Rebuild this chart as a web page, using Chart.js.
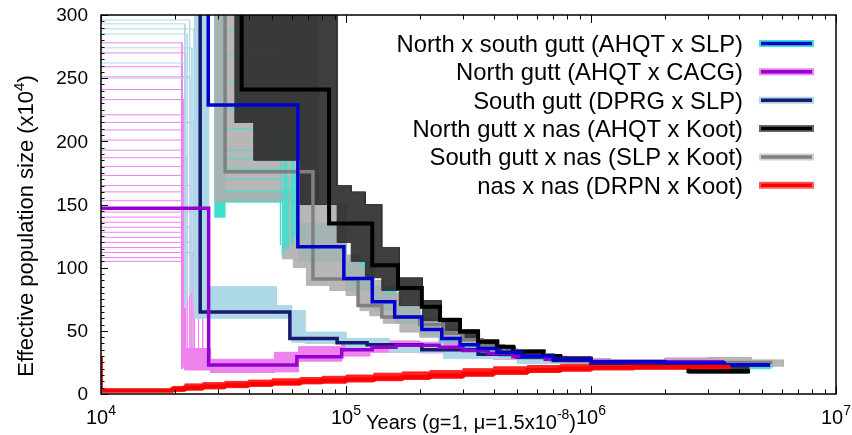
<!DOCTYPE html>
<html>
<head>
<meta charset="utf-8">
<title>PSMC</title>
<script src="https://cdn.jsdelivr.net/npm/chart.js@4.4.1/dist/chart.umd.min.js"></script>
<style>
  body { margin: 0; background: #fff; }
  canvas { display: block; }
</style>
</head>
<body>
<canvas id="psmc" width="852" height="435"></canvas>
<script>
const FUENTE = "'Liberation Sans', Arial, Helvetica, sans-serif";

// Ejes
const xTicks = [1e4, 1e5, 1e6, 1e7];
const yTicks = [0, 50, 100, 150, 200, 250, 300];

// Leyenda
const leyenda = [
    'North x south gutt (AHQT x SLP)',
    'North gutt (AHQT x CACG)',
    'South gutt (DPRG x SLP)',
    'North gutt x nas (AHQT x Koot)',
    'South gutt x nas (SLP x Koot)',
    'nas x nas (DRPN x Koot)'
];
const colorLinea = ['#0000d0', '#9400d3', '#191970', '#000000', '#808080', '#ff0000'];
const colorBoot = ['#40e0d0', '#ee82ee', '#add8e6', '#6a6a6a', '#d0d0d0', '#ff5a5a'];

// Curvas principales: inicio de cada intervalo (años) y Ne (x10^4)
const nsT = [1e4, 2.74e4, 6.36e4, 9.8e4, 1.28e5, 1.58e5, 2.04e5, 2.46e5, 2.92e5, 3.46e5, 4.13e5, 5.2e5, 7e5, 1e6, 2e6, 3.5e6, 5.38e6];
const nsNe = [400, 228.7, 116.6, 91.5, 73, 61, 51, 44, 39, 36, 33, 30, 27.5, 25.5, 24.5, 23, 23];

const northT = [1e4, 2.75e4, 6.3e4, 9.6e4, 1.28e5, 1.6e5, 2.4e5, 3e5, 3.8e5, 4.8e5, 6.5e5, 1e6, 2e6, 3.5e6];
const northNe = [147, 23, 29.5, 35, 37, 38.5, 37, 34.5, 32, 29.5, 27.5, 25.5, 25.5, 25.5];

const southT = [1e4, 2.54e4, 5.9e4, 9.2e4, 1.22e5, 2.04e5, 3.46e5, 5e5, 7e5, 1e6, 2e6, 5.38e6];
const southNe = [400, 65, 44, 40.5, 39, 35, 31.5, 29, 26.5, 24.5, 23, 23];

const northNasT = [1e4, 3.75e4, 8.53e4, 1.28e5, 1.63e5, 2.04e5, 2.42e5, 2.92e5, 3.46e5, 4.13e5, 4.81e5, 6.37e5, 7.47e5, 1e6, 1.6e6, 2.5e6, 4.46e6];
const northNasNe = [400, 241, 135, 102, 84, 69, 58.6, 49.3, 41.4, 37.5, 33.5, 30, 28, 25, 22, 18, 18];

const southNasT = [1e4, 3.21e4, 7.33e4, 1.12e5, 1.4e5, 2.0e5, 2.5e5, 3.0e5, 3.6e5, 4.4e5, 5.5e5, 7e5, 1e6, 2e6, 5.5e6];
const southNasNe = [400, 176, 91, 70, 61, 55, 48, 43, 38, 34, 31, 28, 26, 25, 25];

const nasT = [1e4, 1.96e4, 2.2e4, 2.6e4, 3.2e4, 4e4, 5e4, 6.5e4, 8e4, 1e5, 1.3e5, 1.7e5, 2.2e5, 3e5, 4e5, 5.5e5, 7.5e5, 1e6, 1.5e6, 2.2e6, 3.7e6];
const nasNe = [2.8, 4, 5, 6, 7, 8, 8.8, 9.8, 10.6, 11.5, 12.5, 13.5, 14.5, 16, 17.5, 19, 20, 21, 21.5, 21.5, 21.5];

// Bootstraps: envolvente superior / inferior
const bootNsT = [2.9e4, 3.2e4, 6.4e4, 1.0e5, 1.3e5, 1.6e5, 2e5, 2.4e5, 2.9e5, 3.5e5, 4.2e5, 5e5, 7e5, 1e6, 3e6, 5.4e6];
const bootNsUp = [400, 160, 135, 105, 85, 70, 60, 52, 45, 39, 35, 31, 28, 26, 25, 25];
const bootNsLo = [140, 152, 105, 82, 66, 56, 47, 41, 36, 32.5, 29.5, 27.5, 25.5, 23.5, 20, 20];

const bootNorthT = [2.2e4, 2.8e4, 5.1e4, 6.4e4, 9.6e4, 1.25e5, 2e5, 3e5, 4e5, 5.5e5, 8e5, 1.2e6, 2e6, 3.3e6];
const bootNorthUp = [36, 27.5, 33, 37.5, 39.5, 42, 41, 37, 34, 30, 28, 27, 28.5, 28.5];
const bootNorthLo = [19, 17, 17.5, 26, 30, 33, 32.5, 30, 27.5, 25.5, 24, 23.5, 23.5, 23.5];

const bootSouthT = [2.4e4, 2.75e4, 5.2e4, 6.0e4, 6.8e4, 1.0e5, 1.5e5, 2.5e5, 5e5, 1e6, 5.5e6];
const bootSouthUp = [400, 85, 70, 66, 49, 44, 40, 34, 29, 25.5, 25.5];
const bootSouthLo = [60, 60, 60, 41, 40, 36, 33, 28, 24, 21, 21];

const bootNorthNasT = [3.5e4, 4.2e4, 6.5e4, 9.2e4, 1.05e5, 1.2e5, 1.4e5, 1.65e5, 2.05e5, 2.45e5, 2.95e5, 3.5e5, 4.2e5, 4.9e5, 6.5e5, 7.6e5, 1e6, 1.6e6, 2.5e6, 4.4e6];
const bootNorthNasUp = [400, 400, 400, 165, 160, 150, 116, 92, 74, 60, 51, 43, 38, 35, 31, 29.5, 26, 24, 21, 21];
const bootNorthNasLo = [215, 185, 150, 120, 105, 92, 82, 70, 58, 50, 43, 38, 34.5, 31, 28, 26.5, 24, 21, 16.5, 16.5];

const bootSouthNasT = [2.9e4, 5.5e4, 6.1e4, 6.9e4, 7.7e4, 8.6e4, 1.0e5, 1.14e5, 1.25e5, 1.42e5, 1.66e5, 2.0e5, 2.4e5, 2.9e5, 3.5e5, 4.2e5, 5e5, 6.5e5, 8e5, 1e6, 2e6, 3e6, 4.5e6, 6.1e6];
const bootSouthNasUp = [400, 400, 400, 400, 150, 150, 110, 100, 90, 80, 70, 60, 52, 46, 40, 36, 32, 29, 27, 26.5, 28, 29, 27, 27];
const bootSouthNasLo = [152, 107, 100, 86, 86, 82, 78, 66, 62, 56, 49, 45, 42, 38, 34, 31, 28.5, 26, 25, 24, 23, 22.5, 22, 22];

const bootNasUp = [4, 6, 8, 9, 10, 11, 12, 13, 14, 15, 16.5, 17.5, 18.5, 20, 21.5, 22.5, 23.5, 24, 24, 23.5, 23];
const bootNasLo = [1.5, 2, 3, 4, 5, 6, 7, 8, 8.5, 9.5, 10.5, 11.5, 12.5, 14, 15.5, 17, 18, 19, 19.5, 19.5, 19.5];

// Primer intervalo de algunos bootstraps (abanico de la izquierda)
const abanicoNorth = [278, 270, 259, 251, 241, 233, 221, 215, 209, 201, 193, 187, 180, 173, 165, 160, 153, 147, 144, 140, 136, 132, 128, 124, 120, 116, 112, 108, 105];
const abanicoNorthFin = [2.14e4, 2.2e4, 2.14e4, 2.3e4, 2.14e4, 2.18e4, 2.14e4, 2.4e4, 2.14e4, 2.2e4, 2.14e4, 2.25e4, 2.14e4, 2.14e4, 2.3e4, 2.14e4, 2.2e4, 2.14e4, 2.5e4, 2.14e4, 2.16e4, 2.3e4, 2.14e4, 2.2e4, 2.6e4, 2.14e4, 2.35e4, 2.14e4, 2.2e4];
const abanicoNorthCaida = [22, 25, 20, 28, 24, 21, 30, 19, 26, 23, 20, 27, 22, 25, 19, 24, 21, 28, 20, 23, 26, 21, 24, 19, 27, 22, 25, 20, 23];

const abanicoSouth = [296, 293, 289, 285, 274, 262, 250];
const abanicoSouthFin = [2.3e4, 2.2e4, 2.4e4, 2.25e4, 2.35e4, 2.2e4, 2.3e4];
const abanicoSouthCaida = [78, 82, 70, 75, 80, 68, 84];

const abanicoNs = [288, 268, 247, 226, 210, 193, 186, 178, 170, 161, 153];
const abanicoNsFin = [6.1e4, 5.4e4, 6.3e4, 5.7e4, 6.0e4, 6.0e4, 5.6e4, 6.2e4, 5.8e4, 6.1e4, 5.5e4];
const abanicoNsCaida = [122, 118, 128, 116, 124, 118, 112, 125, 115, 120, 110];

const abanicoNas = [29];
const abanicoNasFin = [1.01e4];
const abanicoNasCaida = [3];

// ==========================
//   Datasets
// ==========================
const datasets = [];

function escalon(t, n) {
    return t.map((v, i) => ({ x: v, y: n[i] }));
}

// escalones como esquinas explicitas
function esquinas(t, n) {
    const pts = [];
    for (let i = 0; i < t.length - 1; i++) {
        pts.push({ x: t[i], y: n[i] });
        pts.push({ x: t[i + 1], y: n[i] });
    }
    pts.push({ x: t[t.length - 1], y: n[n.length - 1] });
    return pts;
}

// banda de bootstraps: borde superior de ida, inferior de vuelta, se rellena la forma cerrada
function nube(t, up, lo, color) {
    const contorno = esquinas(t, up).concat(esquinas(t, lo).reverse());
    datasets.push({ data: contorno, borderColor: color, backgroundColor: color, borderWidth: 1, fill: 'shape', pointRadius: 0, tension: 0 });
}

function abanico(alturas, fin, caida, inicio, color) {
    alturas.forEach((h, i) => {
        datasets.push({
            data: [{ x: inicio, y: h }, { x: fin[i], y: h }, { x: fin[i], y: caida[i] }],
            borderColor: color, borderWidth: 1, fill: false, pointRadius: 0
        });
    });
}

// 'before': tramo horizontal primero, luego el salto vertical
function linea(t, n, color, ancho) {
    datasets.push({ data: escalon(t, n), stepped: 'before', borderColor: color, borderWidth: ancho, fill: false, pointRadius: 0 });
}

// de abajo hacia arriba
abanico(abanicoNorth, abanicoNorthFin, abanicoNorthCaida, 1e4, '#ee82ee');
nube(bootNorthT, bootNorthUp, bootNorthLo, '#ee82ee');
abanico(abanicoSouth, abanicoSouthFin, abanicoSouthCaida, 1e4, '#add8e6');
nube(bootSouthT, bootSouthUp, bootSouthLo, '#add8e6');
nube(bootNsT, bootNsUp, bootNsLo, '#40e0d0');
nube(bootSouthNasT, bootSouthNasUp, bootSouthNasLo, 'rgba(175,175,175,0.9)');
abanico(abanicoNs, abanicoNsFin, abanicoNsCaida, 3.2e4, '#40e0d0');
nube(bootNorthNasT, bootNorthNasUp, bootNorthNasLo, 'rgba(48,48,48,0.93)');
abanico(abanicoNas, abanicoNasFin, abanicoNasCaida, 1e4, '#ff0000');
nube(nasT, bootNasUp, bootNasLo, '#ff2020');

linea(southNasT, southNasNe, '#808080', 3.5);
linea(northNasT, northNasNe, '#000000', 4);
linea(southT, southNe, '#191970', 3.5);
linea(northT, northNe, '#9400d3', 3.5);
linea(nsT, nsNe, '#0000d0', 3.5);
linea(nasT, nasNe, '#ff0000', 4);

// el primero de la lista queda abajo
datasets.forEach((d, i) => { d.order = datasets.length - i; });

// Texto con exponente
function escribir(ctx, partes, x, y, align) {
    let total = 0;
    partes.forEach(p => {
        ctx.font = p.s + 'px ' + FUENTE;
        p.w = ctx.measureText(p.t).width;
        total += p.w;
    });
    let x0 = align === 'center' ? x - total / 2 : x;
    ctx.textAlign = 'left';
    ctx.textBaseline = 'alphabetic';
    partes.forEach(p => {
        ctx.font = p.s + 'px ' + FUENTE;
        ctx.fillText(p.t, x0, y + (p.dy || 0));
        x0 += p.w;
    });
}

const marco = {
    id: 'marco',
    afterDatasetsDraw(chart) {
        const ctx = chart.ctx;
        const a = chart.chartArea;
        const x = chart.scales.x;
        const y = chart.scales.y;
        ctx.save();

        // ticks
        ctx.strokeStyle = '#000';
        ctx.lineWidth = 1;
        ctx.beginPath();
        xTicks.forEach((v, i) => {
            const px = Math.round(x.getPixelForValue(v)) + 0.5;
            ctx.moveTo(px, a.bottom); ctx.lineTo(px, a.bottom - 8);
            ctx.moveTo(px, a.top); ctx.lineTo(px, a.top + 8);
            if (i < xTicks.length - 1) {
                for (let k = 2; k < 10; k++) {
                    const pm = Math.round(x.getPixelForValue(v * k)) + 0.5;
                    ctx.moveTo(pm, a.bottom); ctx.lineTo(pm, a.bottom - 4.5);
                    ctx.moveTo(pm, a.top); ctx.lineTo(pm, a.top + 4.5);
                }
            }
        });
        yTicks.forEach((v, i) => {
            const py = Math.round(y.getPixelForValue(v)) + 0.5;
            ctx.moveTo(a.left, py); ctx.lineTo(a.left + 7, py);
            if (i < yTicks.length - 1) {
                const paso = (yTicks[i + 1] - v) / 10;
                for (let k = 1; k < 10; k++) {
                    const pm = Math.round(y.getPixelForValue(v + k * paso)) + 0.5;
                    ctx.moveTo(a.left, pm); ctx.lineTo(a.left + 3.5, pm);
                }
            }
        });
        ctx.stroke();

        // marco
        ctx.lineWidth = 1.5;
        ctx.strokeRect(a.left, a.top, a.right - a.left, a.bottom - a.top);

        // etiquetas
        ctx.fillStyle = '#000';
        ctx.font = '19px ' + FUENTE;
        ctx.textAlign = 'right';
        ctx.textBaseline = 'middle';
        yTicks.forEach(v => ctx.fillText(String(v), a.left - 13, y.getPixelForValue(v) + 1));

        xTicks.forEach(v => {
            const exp = String(Math.round(Math.log10(v)));
            escribir(ctx, [{ t: '10', s: 20 }, { t: exp, s: 14, dy: -9 }], x.getPixelForValue(v), 424, 'center');
        });

        escribir(ctx, [
            { t: 'Years (g=1, \u03bc=1.5x10', s: 20 },
            { t: '-8', s: 14, dy: -10 },
            { t: ')', s: 20 }
        ], 366, 429, 'left');

        ctx.save();
        ctx.translate(33, 226);
        ctx.rotate(-Math.PI / 2);
        escribir(ctx, [
            { t: 'Effective population size (x10', s: 22 },
            { t: '4', s: 15, dy: -9 },
            { t: ')', s: 22 }
        ], 0, 0, 'center');
        ctx.restore();

        // leyenda
        ctx.font = '23.8px ' + FUENTE;
        ctx.textAlign = 'right';
        ctx.textBaseline = 'alphabetic';
        ctx.lineCap = 'butt';
        leyenda.forEach((txt, i) => {
            const yy = 43.5 + i * 28.35;
            ctx.fillText(txt, 743, yy + 8.5);
            ctx.strokeStyle = colorBoot[i];
            ctx.lineWidth = 7;
            ctx.beginPath(); ctx.moveTo(759, yy); ctx.lineTo(814, yy); ctx.stroke();
            ctx.strokeStyle = colorLinea[i];
            ctx.lineWidth = 3.5;
            ctx.beginPath(); ctx.moveTo(761, yy); ctx.lineTo(812, yy); ctx.stroke();
        });

        ctx.restore();
    }
};

new Chart(document.getElementById('psmc'), {
    type: 'line',
    data: { datasets: datasets },
    options: {
        responsive: false,
        animation: false,
        events: [],
        layout: { padding: { left: 101, right: 16, top: 15, bottom: 41 } },
        plugins: {
            legend: { display: false },
            tooltip: { enabled: false }
        },
        scales: {
            x: { type: 'logarithmic', min: 1e4, max: 1e7, display: false },
            y: { type: 'linear', min: 0, max: 300, display: false }
        }
    },
    plugins: [marco]
});
</script>
</body>
</html>
